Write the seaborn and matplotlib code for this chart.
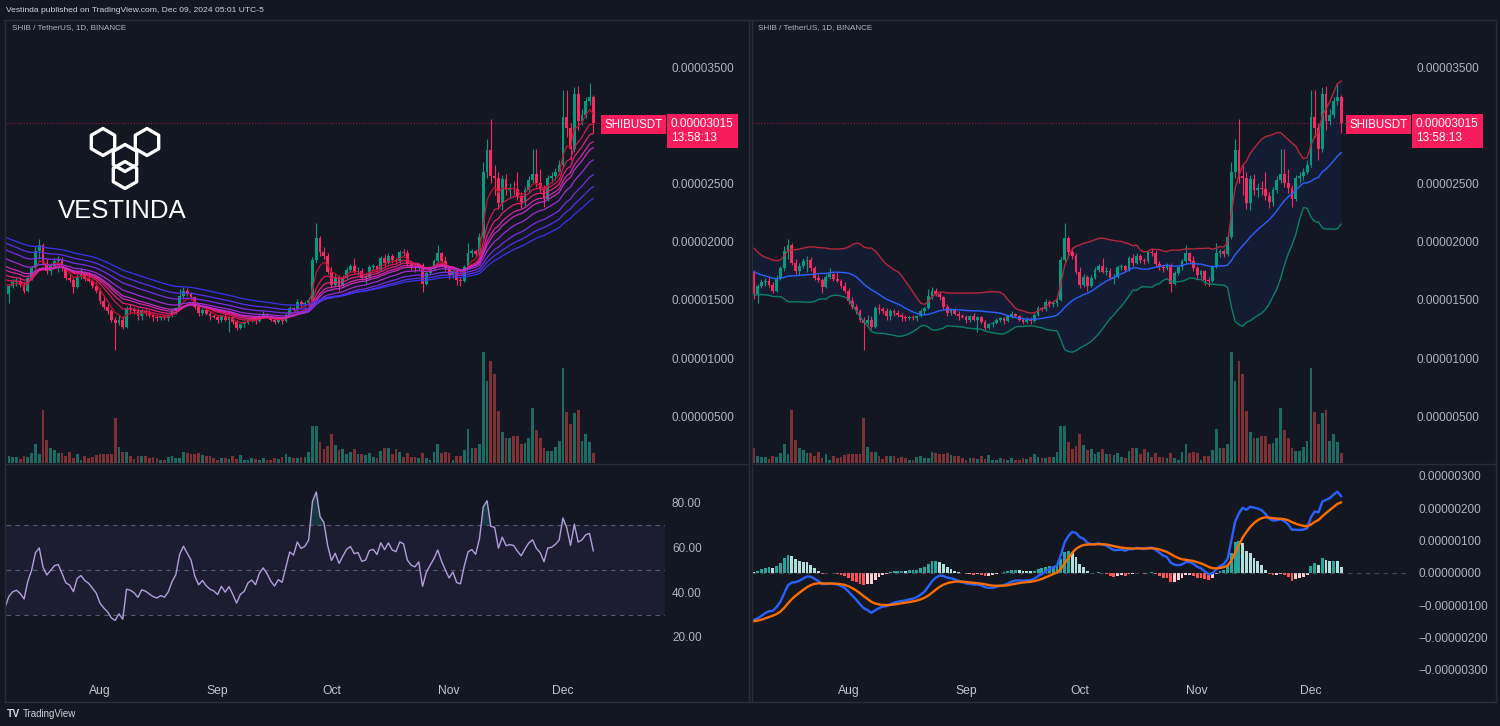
import matplotlib
matplotlib.use("Agg")
import matplotlib.pyplot as plt
import seaborn as sns
import numpy as np
import pandas as pd
from matplotlib.colors import LinearSegmentedColormap
from matplotlib.patches import RegularPolygon
from matplotlib.lines import Line2D
from matplotlib.transforms import IdentityTransform

# SHIB / USDT daily candles, prices in units of 1e-5 USDT
# closes before the visible window (May 10 - Jul 6), only used to warm up the indicators
warmup_close = [2.25, 2.27, 2.28, 2.24, 2.20, 2.36, 2.34, 2.42, 2.40, 2.36, 2.47, 2.59, 2.53, 2.46, 2.51,
                2.58, 2.52, 2.55, 2.47, 2.42, 2.47, 2.49,
                2.50, 2.52, 2.54, 2.55, 2.59, 2.58, 2.36, 2.37, 2.39, 2.33, 2.22, 2.25, 2.14, 2.15, 2.17,
                2.20, 2.03, 1.95, 1.90, 1.83, 1.80, 1.82, 1.74, 1.70, 1.78, 1.75, 1.77, 1.73, 1.74, 1.77,
                1.79, 1.72, 1.64, 1.55, 1.58, 1.74]

# visible window: Jul 7 - Dec 9 2024
close = [1.55, 1.62, 1.65, 1.66, 1.63, 1.58, 1.69, 1.77, 1.92, 1.97, 1.82, 1.75, 1.79, 1.83, 1.84, 1.77, 1.69,
         1.67, 1.61, 1.70, 1.72, 1.68, 1.66, 1.62, 1.58,
         1.49, 1.44, 1.40, 1.33, 1.30, 1.33, 1.27, 1.43, 1.42, 1.40, 1.36, 1.40, 1.39, 1.37, 1.35, 1.34,
         1.35, 1.34, 1.36, 1.40, 1.43, 1.53, 1.58, 1.55, 1.52, 1.44, 1.39, 1.41, 1.38, 1.36, 1.35,
         1.33, 1.36, 1.33, 1.35, 1.31, 1.26, 1.29, 1.30, 1.33, 1.34, 1.32, 1.36, 1.38, 1.36, 1.33, 1.31,
         1.33, 1.32, 1.37, 1.43, 1.42, 1.48, 1.46, 1.47, 1.50, 1.84, 2.03, 1.91, 1.88, 1.74,
         1.63, 1.70, 1.62, 1.69, 1.76, 1.79, 1.74, 1.75, 1.69, 1.70, 1.78, 1.79, 1.76, 1.86, 1.82, 1.88,
         1.84, 1.83, 1.91, 1.90, 1.81, 1.78, 1.77, 1.80, 1.64, 1.73, 1.78, 1.83, 1.90, 1.83, 1.77,
         1.71, 1.75, 1.67, 1.66, 1.78, 1.90, 1.92, 1.89, 2.04, 2.60, 2.79, 2.56, 2.55, 2.33, 2.54, 2.44,
         2.46, 2.45, 2.39, 2.34, 2.44, 2.53, 2.58, 2.50, 2.46, 2.37, 2.55, 2.56, 2.60, 2.66,
         3.07, 2.98, 2.80, 3.27, 3.04, 3.09, 3.21, 3.24, 3.015]
high = [1.76, 1.64, 1.68, 1.69, 1.70, 1.65, 1.71, 1.79, 1.96, 2.02, 1.99, 1.85, 1.82, 1.86, 1.88, 1.87, 1.79,
        1.72, 1.69, 1.72, 1.77, 1.73, 1.74, 1.68, 1.65,
        1.60, 1.52, 1.46, 1.42, 1.35, 1.37, 1.36, 1.45, 1.46, 1.44, 1.43, 1.42, 1.42, 1.41, 1.39, 1.37,
        1.36, 1.37, 1.37, 1.42, 1.44, 1.59, 1.61, 1.60, 1.57, 1.53, 1.46, 1.43, 1.43, 1.40, 1.38,
        1.37, 1.37, 1.39, 1.36, 1.36, 1.33, 1.30, 1.32, 1.34, 1.35, 1.35, 1.37, 1.40, 1.39, 1.37, 1.34,
        1.35, 1.35, 1.39, 1.45, 1.44, 1.51, 1.50, 1.49, 1.52, 1.87, 2.16, 2.05, 1.95, 1.90,
        1.78, 1.72, 1.71, 1.71, 1.78, 1.81, 1.86, 1.78, 1.77, 1.72, 1.80, 1.81, 1.80, 1.88, 1.89, 1.90,
        1.89, 1.86, 1.93, 1.94, 1.93, 1.83, 1.80, 1.82, 1.82, 1.75, 1.79, 1.85, 1.97, 1.91, 1.88,
        1.79, 1.76, 1.76, 1.70, 1.80, 1.99, 1.94, 1.94, 2.07, 2.68, 2.88, 3.05, 2.66, 2.60, 2.57, 2.58,
        2.50, 2.52, 2.60, 2.43, 2.47, 2.56, 2.80, 2.80, 2.62, 2.49, 2.57, 2.60, 2.63, 2.70,
        3.30, 3.30, 3.02, 3.33, 3.34, 3.14, 3.24, 3.36, 3.26]
low = [1.51, 1.47, 1.60, 1.62, 1.61, 1.56, 1.57, 1.67, 1.75, 1.85, 1.80, 1.72, 1.71, 1.77, 1.74, 1.75, 1.67,
       1.65, 1.56, 1.60, 1.68, 1.66, 1.65, 1.60, 1.56,
       1.46, 1.42, 1.38, 1.31, 1.07, 1.28, 1.25, 1.26, 1.38, 1.38, 1.33, 1.33, 1.36, 1.35, 1.32, 1.32,
       1.33, 1.33, 1.32, 1.35, 1.38, 1.42, 1.51, 1.53, 1.50, 1.42, 1.36, 1.37, 1.37, 1.33, 1.34,
       1.30, 1.31, 1.32, 1.22, 1.29, 1.24, 1.25, 1.27, 1.29, 1.31, 1.29, 1.31, 1.34, 1.35, 1.32, 1.29,
       1.30, 1.29, 1.31, 1.36, 1.40, 1.40, 1.44, 1.44, 1.45, 1.49, 1.82, 1.88, 1.85, 1.72,
       1.60, 1.61, 1.58, 1.61, 1.68, 1.74, 1.73, 1.71, 1.67, 1.64, 1.69, 1.76, 1.74, 1.75, 1.79, 1.81,
       1.82, 1.81, 1.82, 1.88, 1.79, 1.76, 1.74, 1.76, 1.57, 1.63, 1.71, 1.76, 1.82, 1.81, 1.75,
       1.68, 1.69, 1.63, 1.62, 1.65, 1.77, 1.87, 1.87, 1.88, 2.02, 2.55, 2.50, 2.40, 2.28, 2.27, 2.40,
       2.38, 2.40, 2.36, 2.29, 2.31, 2.42, 2.50, 2.47, 2.42, 2.30, 2.35, 2.50, 2.53, 2.58,
       2.64, 2.90, 2.70, 2.77, 2.96, 3.00, 3.06, 3.17, 2.93]
# relative volume
volume = [15, 7, 6, 6, 4, 7, 6, 10, 19, 9, 53, 23, 15, 13, 10, 10, 7, 11, 5, 9, 3, 7, 5, 6, 8, 9, 9, 9, 9,
          45,
          16, 11, 11, 7, 4, 7, 7, 7, 5, 6, 5, 3, 3, 6, 7, 5, 5, 11, 10, 9, 9, 10, 8, 7, 7, 5, 3, 5, 5, 4,
          7, 4, 8, 3, 3, 5, 4, 3, 5, 3, 3, 5, 4, 6, 9, 6, 5, 5, 6, 6, 11, 37, 37, 21, 14, 17, 29,
          18, 13, 14, 9, 11, 14, 9, 9, 8, 10, 6, 5, 12, 15, 15, 9, 14, 11, 6, 10, 6, 6, 5, 10, 5, 3, 11,
          19, 10, 11, 10, 3, 7, 7, 13,
          34, 15, 15, 19, 111, 82, 102, 89, 52, 31, 25, 25, 27, 27, 19, 20, 25, 55, 33, 25, 15, 12, 12,
          16, 22, 95, 51, 39, 50, 53, 22, 29, 21, 10]

dates = pd.date_range("2024-07-07", "2024-12-09", freq="D")
month_labels = ["Aug", "Sep", "Oct", "Nov", "Dec"]
last_price = 3.015
price_ticks = [0.5, 1.0, 1.5, 2.0, 2.5, 3.5]
rsi_ticks = [20, 40, 60, 80]
macd_ticks = [-0.3, -0.2, -0.1, 0.0, 0.1, 0.2, 0.3]
ribbon_spans = [5, 10, 14, 18, 21, 28, 38, 48, 60]

df = pd.DataFrame({"close": close, "high": high, "low": low, "volume": volume}, index=dates)
df["open"] = [warmup_close[-1]] + close[:-1]
n = len(df)
x = np.arange(n)
month_pos = [list(dates).index(pd.Timestamp(f"2024-{m:02d}-01")) for m in (8, 9, 10, 11, 12)]

# indicators over warmup + visible closes
full = pd.Series(warmup_close + close)
ribbon = [full.ewm(span=s, adjust=False).mean().iloc[-n:].to_numpy() for s in ribbon_spans]
mid = full.rolling(20).mean()
sd = full.rolling(20).std(ddof=0)
bb_mid = mid.iloc[-n:].to_numpy()
bb_up = (mid + 2 * sd).iloc[-n:].to_numpy()
bb_lo = (mid - 2 * sd).iloc[-n:].to_numpy()
delta = full.diff()
gain = delta.clip(lower=0).ewm(alpha=1 / 14, adjust=False).mean()
loss = (-delta.clip(upper=0)).ewm(alpha=1 / 14, adjust=False).mean()
rsi = (100 - 100 / (1 + gain / loss)).iloc[-n:].to_numpy()
macd_full = full.ewm(span=12, adjust=False).mean() - full.ewm(span=26, adjust=False).mean()
signal_full = macd_full.ewm(span=9, adjust=False).mean()
hist_full = macd_full - signal_full
macd = macd_full.iloc[-n:].to_numpy()
signal = signal_full.iloc[-n:].to_numpy()
hist = hist_full.iloc[-n:].to_numpy()
hist_prev = hist_full.shift(1).iloc[-n:].to_numpy()

BG = "#131722"
LINE = "#2a2e39"
TXT = "#b2b5be"
UP, DOWN = "#089981", "#f7295f"
VUP, VDOWN = "#1d6a62", "#7d3135"
TAG = "#f71d5c"

sns.set_theme(style="dark", rc={"axes.facecolor": BG, "figure.facecolor": BG})
plt.rcParams["font.family"] = ["Liberation Sans", "DejaVu Sans"]

W, H = 1500, 726
fig = plt.figure(figsize=(W / 100, H / 100), dpi=100, facecolor=BG)


def box(x0, y0, x1, y1):
    return [x0 / W, 1 - y1 / H, (x1 - x0) / W, (y1 - y0) / H]


def fmt_price(v):
    s = f"{abs(v) * 1e-5:.8f}"
    return ("\u2212" + s) if v < -1e-9 else s


def style(ax):
    ax.set_facecolor(BG)
    for sp in ax.spines.values():
        sp.set_visible(False)
    ax.grid(False)
    ax.tick_params(length=0, colors=TXT, labelsize=8.5)


def right_labels(ax, pad):
    ax.yaxis.tick_right()
    ax.tick_params(axis="y", which="both", left=False, labelleft=False, right=False, labelright=True,
                   pad=pad, length=0, colors=TXT, labelsize=8.5)


def price_pane(ax, x0):
    style(ax)
    ax_v = ax.twinx()
    ax_v.set_facecolor(BG)
    for sp in ax_v.spines.values():
        sp.set_visible(False)
    vcol = [VUP if c >= o else VDOWN for o, c in zip(df["open"], df["close"])]
    ax_v.bar(x, df["volume"], width=0.72, color=vcol, linewidth=0)
    ax_v.set_ylim(0, 443)
    ax_v.set_yticks([])
    ax_v.grid(False)
    ax.set_zorder(ax_v.get_zorder() + 1)
    ax.patch.set_visible(False)

    up = (df["close"] >= df["open"]).to_numpy()
    body_lo = np.minimum(df["open"], df["close"]).to_numpy()
    body_h = np.maximum(np.abs(df["close"] - df["open"]).to_numpy(), 0.01)
    col = np.where(up, UP, DOWN)
    ax.vlines(x, df["low"], df["high"], colors=col, linewidth=0.8, zorder=3)
    ax.bar(x, body_h, bottom=body_lo, width=0.74, color=col, linewidth=0, zorder=4)

    ax.axhline(last_price, color=TAG, linestyle=(0, (1, 1.6)), linewidth=0.8, alpha=0.6, zorder=2)
    ax.set_ylim(0.098, 3.904)
    ax.set_xlim(x0, x0 + 659 / 3.795)
    ax.set_yticks(price_ticks)
    ax.set_yticklabels([fmt_price(v) for v in price_ticks])
    right_labels(ax, 5)
    ax.set_xticks([])
    ax.text(0.997, last_price - 0.012, "SHIBUSDT", transform=ax.get_yaxis_transform(), ha="right",
            va="center", color="white", fontsize=8.3, zorder=6,
            bbox=dict(boxstyle="square,pad=0.3", fc=TAG, ec="none"))
    ax.text(1.009, last_price - 0.062, f"{last_price * 1e-5:.8f}\n13:58:13", transform=ax.get_yaxis_transform(),
            ha="left", va="center", color="white", fontsize=8.5, linespacing=1.2, zorder=6, clip_on=False,
            bbox=dict(boxstyle="square,pad=0.35", fc=TAG, ec="none"))


def bottom_axis(ax, x0):
    ax.set_xlim(x0, x0 + 659 / 3.795)
    ax.set_xticks(month_pos)
    ax.set_xticklabels(month_labels)
    ax.tick_params(axis="x", pad=3.5, labelsize=8.7, colors="#c3c6ce")


# ---------------- left panel: EMA ribbon + RSI ----------------
ax1 = fig.add_axes(box(6, 20, 665, 463))
price_pane(ax1, 0.24)
cmap = LinearSegmentedColormap.from_list("ribbon", ["#c8102e", "#e8207a", "#c62cc8", "#7a2ee6", "#3a32f0"])
for k, line in enumerate(ribbon):
    sns.lineplot(x=x, y=line, ax=ax1, color=cmap(k / (len(ribbon) - 1)), linewidth=0.9, zorder=5)

# logo (pixel coordinates, origin bottom-left at dpi 100)
for (cx, cy) in [(103, 142), (147, 142), (125, 158), (125, 175)]:
    hexagon = RegularPolygon((cx, H - cy), numVertices=6, radius=13.5, orientation=0,
                             transform=IdentityTransform(), fill=False, ec="white", lw=2.4,
                             joinstyle="round")
    fig.add_artist(hexagon)
fig.text(122 / W, 1 - 211 / H, "VESTINDA", color="white", fontsize=18.5, ha="center", va="center")

ax2 = fig.add_axes(box(6, 465, 665, 680))
style(ax2)
ax2.axhspan(30, 70, color="#7e57c2", alpha=0.1, linewidth=0)
for lvl in (70, 50, 30):
    ax2.axhline(lvl, color="#787b86", linestyle=(0, (4, 4)), linewidth=0.8, alpha=0.7)
ax2.fill_between(x, 70, rsi, where=rsi > 70, interpolate=True, color="#26a69a", alpha=0.25, linewidth=0)
sns.lineplot(x=x, y=rsi, ax=ax2, color="#b39ddb", linewidth=1.0)
ax2.set_ylim(0.7, 97)
ax2.set_yticks(rsi_ticks)
ax2.set_yticklabels([f"{v:.2f}" for v in rsi_ticks])
right_labels(ax2, 5)
bottom_axis(ax2, 0.24)

# ---------------- right panel: Bollinger bands + MACD ----------------
ax3 = fig.add_axes(box(752, 20, 1410, 463))
price_pane(ax3, -0.5)
ax3.fill_between(x, bb_lo, bb_up, color="#2962ff", alpha=0.08, linewidth=0, zorder=1)
sns.lineplot(x=x, y=bb_up, ax=ax3, color="#b7283a", linewidth=1.0, zorder=5)
sns.lineplot(x=x, y=bb_mid, ax=ax3, color="#2962ff", linewidth=1.0, zorder=5)
sns.lineplot(x=x, y=bb_lo, ax=ax3, color="#0b8068", linewidth=1.0, zorder=5)

ax4 = fig.add_axes(box(752, 465, 1410, 680))
style(ax4)
hcol = []
for h, hp in zip(hist, hist_prev):
    if h >= 0:
        hcol.append("#26a69a" if h > hp else "#b2dfdb")
    else:
        hcol.append("#ff5252" if h < hp else "#ffcdd2")
ax4.axhline(0, color="#787b86", linestyle=(0, (4, 4)), linewidth=0.8, alpha=0.5)
ax4.bar(x, hist, width=0.75, color=hcol, linewidth=0)
sns.lineplot(x=x, y=macd, ax=ax4, color="#2962ff", linewidth=1.7)
sns.lineplot(x=x, y=signal, ax=ax4, color="#ff6d00", linewidth=1.7)
ax4.set_ylim(-0.331, 0.334)
ax4.set_yticks(macd_ticks)
ax4.set_yticklabels([fmt_price(v) for v in macd_ticks])
right_labels(ax4, 6)
bottom_axis(ax4, -0.5)


# frame lines
def hline(y, x0, x1):
    fig.add_artist(Line2D([x0 / W, x1 / W], [1 - y / H, 1 - y / H], color=LINE, lw=1))


def vline(xp, y0, y1):
    fig.add_artist(Line2D([xp / W, xp / W], [1 - y0 / H, 1 - y1 / H], color=LINE, lw=1))


hline(20, 4, 1496)
hline(702, 4, 1496)
hline(464, 6, 748)
hline(464, 752, 1496)
vline(4.5, 20, 702)
vline(749, 20, 702)
vline(751.5, 20, 702)
vline(1495.5, 20, 702)

fig.text(6 / W, 1 - 10 / H, "Vestinda published on TradingView.com, Dec 09, 2024 05:01 UTC-5",
         color="#d1d4dc", fontsize=6.1, va="center", ha="left")
for px in (12, 758):
    fig.text(px / W, 1 - 28 / H, "SHIB / TetherUS, 1D, BINANCE", color=TXT, fontsize=5.9, va="center")
fig.text(7 / W, 1 - 714 / H, "TV", color="#d1d4dc", fontsize=7.5, fontweight="bold", va="center")
fig.text(23 / W, 1 - 714 / H, "TradingView", color="#d1d4dc", fontsize=7, va="center")

fig.savefig("out.png", dpi=100, facecolor=BG)
